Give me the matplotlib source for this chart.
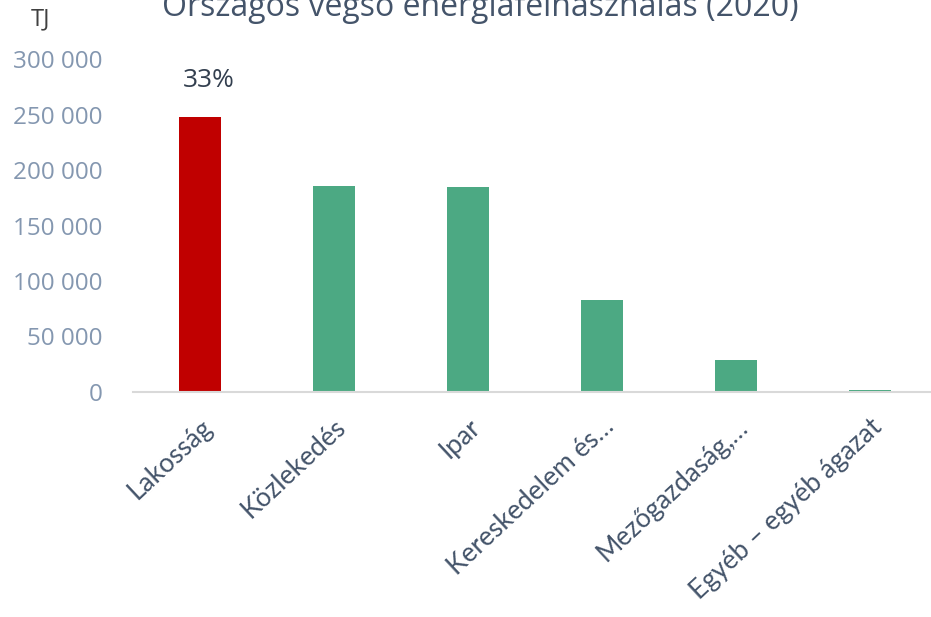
import matplotlib.pyplot as plt

categories = ['Lakosság', 'Közlekedés', 'Ipar', 'Kereskedelem és…',
              'Mezőgazdaság,…', 'Egyéb – egyéb ágazat']
values = [248000, 185500, 185000, 82800, 28800, 1500]
colors = ['#c00000', '#4ca983', '#4ca983', '#4ca983', '#4ca983', '#4ca983']
yticks = [0, 50000, 100000, 150000, 200000, 250000, 300000]
ytick_labels = ['0', '50 000', '100 000', '150 000', '200 000', '250 000', '300 000']

fig = plt.figure(figsize=(9.31, 6.17), dpi=100)
ax = fig.add_axes([0.1429, 0.365, 0.8636, 0.539])

x = list(range(len(categories)))
ax.bar(x, values, width=0.31, color=colors)

ax.set_xlim(-0.5, 5.5)
ax.set_ylim(0, 300000)
ax.set_yticks(yticks)
ax.set_yticklabels(ytick_labels, fontsize=17.5, color='#8497b0', family='Open Sans')
ax.set_xticks(x)
ax.set_xticklabels(categories, rotation=43, ha='right', va='top',
                   rotation_mode='anchor', fontsize=19, color='#44546a', family='Lato')
ax.tick_params(axis='both', length=0)
ax.tick_params(axis='y', pad=22)
ax.tick_params(axis='x', pad=16)

for s in ['top', 'right', 'left']:
    ax.spines[s].set_visible(False)
ax.spines['bottom'].set_color('#d9d9d9')
ax.spines['bottom'].set_linewidth(1.5)

ax.annotate('33%', (0, values[0]), xytext=(6.5, 17), textcoords='offset points',
            ha='center', va='bottom', fontsize=19, color='#333f4f', family='Open Sans')

fig.text(0.516, 0.974, 'Országos végső energiafelhasználás (2020)', ha='center',
         va='baseline', fontsize=23, color='#44546a', family='Open Sans')
fig.text(0.043, 0.968, 'TJ', ha='center', va='center', fontsize=17,
         color='#404040', family='Open Sans')

fig.savefig('out.png', dpi=100)
